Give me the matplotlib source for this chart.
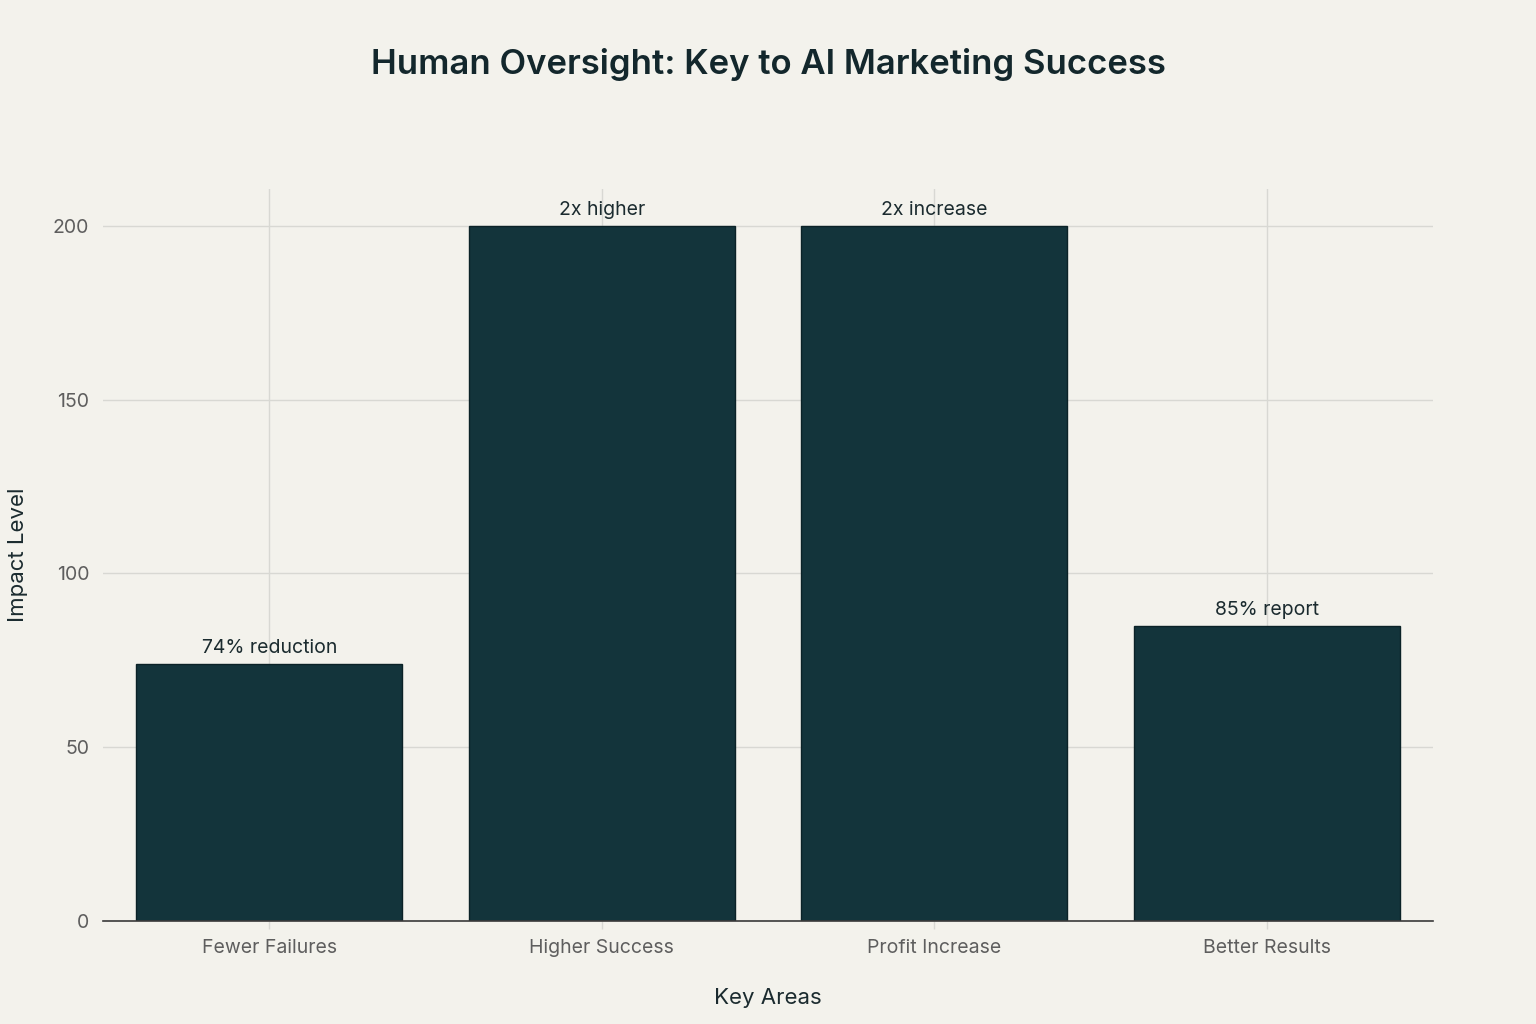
import matplotlib.pyplot as plt

# chart data
categories = ['Fewer Failures', 'Higher Success', 'Profit Increase', 'Better Results']
values = [74, 200, 200, 85]
bar_labels = ['74% reduction', '2x higher', '2x increase', '85% report']
yticks = [0, 50, 100, 150, 200]

bg = '#F3F2EC'
bar_color = '#13343B'

plt.rcParams['font.family'] = ['Inter', 'DejaVu Sans']

fig = plt.figure(figsize=(15.36, 10.24), dpi=100, facecolor=bg)
ax = fig.add_axes([0.0671, 0.1006, 0.8659, 0.7148])
ax.set_facecolor(bg)

x = range(len(categories))
ax.bar(x, values, width=0.8, color=bar_color, edgecolor='#0b2227', linewidth=1, zorder=3)

for i, (v, lab) in enumerate(zip(values, bar_labels)):
    ax.annotate(lab, (i, v), xytext=(0, 5), textcoords='offset points',
                ha='center', va='bottom', fontsize=14, color='#1b2b2f', zorder=4)

ax.set_xlim(-0.5, 3.5)
ax.set_ylim(0, 210.6)
ax.set_xticks(list(x))
ax.set_xticklabels(categories)
ax.set_yticks(yticks)

ax.grid(True, color='#d8d8d3', linewidth=1, zorder=0)
for s in ['top', 'right', 'left']:
    ax.spines[s].set_visible(False)
ax.spines['bottom'].set_color('#3a3a3a')
ax.spines['bottom'].set_linewidth(1.2)
ax.spines['bottom'].set_zorder(5)

ax.tick_params(axis='x', colors='#d8d8d3', length=6, width=1, labelcolor='#5e5e5e',
               labelsize=14, pad=7)
ax.tick_params(axis='y', length=0, labelcolor='#5e5e5e', labelsize=14, pad=10)

ax.set_xlabel('Key Areas', fontsize=16, color='#1b2b2f', labelpad=22)
ax.set_ylabel('Impact Level', fontsize=16, color='#1b2b2f', labelpad=18)

fig.text(0.5, 0.937, 'Human Oversight: Key to AI Marketing Success', ha='center', va='center',
         fontsize=25, fontweight='semibold', color='#13272c')

fig.savefig('out.png', dpi=100, facecolor=bg)
